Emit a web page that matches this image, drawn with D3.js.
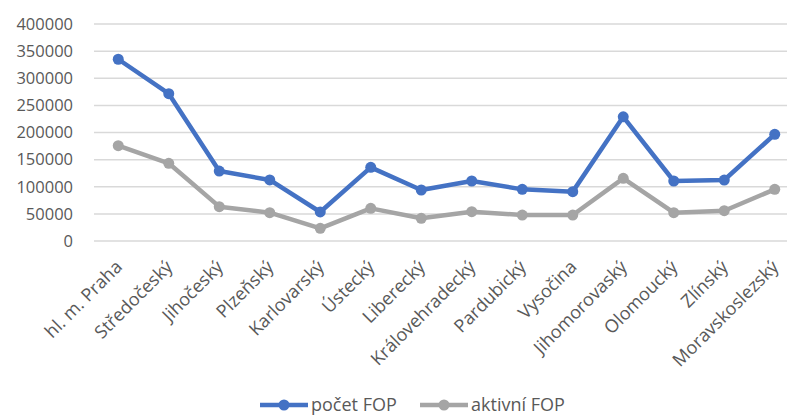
<!DOCTYPE html>
<html lang="cs">
<head>
<meta charset="UTF-8">
<title>FOP podle krajů</title>
<script src="https://d3js.org/d3.v7.min.js"></script>
<style>
  body { margin: 0; background: #fff; }
  svg text { font-family: "Open Sans", sans-serif; fill: #595959; }
</style>
</head>
<body>
<svg width="787" height="415" id="mainsvg"></svg>
<script>
const kraje = ['hl. m. Praha', 'Středočeský', 'Jihočeský', 'Plzeňský', 'Karlovarský', 'Ústecký',
  'Liberecký', 'Královehradecký', 'Pardubický', 'Vysočina', 'Jihomorovaský', 'Olomoucký',
  'Zlínský', 'Moravskoslezský'];
const pocetFOP = [335000, 271500, 129000, 112500, 53500, 135800, 94000, 110600, 95200, 91000,
  229000, 110600, 112400, 196600];
const aktivniFOP = [175700, 143200, 63300, 52200, 23300, 60200, 41800, 54000, 47900, 47900,
  115500, 52200, 55800, 95200];
const yTicks = [0, 50000, 100000, 150000, 200000, 250000, 300000, 350000, 400000];

const svg = d3.select('#mainsvg');
const width = +svg.attr('width');

// scales
const x = d3.scaleBand().domain(kraje).range([93, 800]).padding(0);
const y = d3.scaleLinear().domain([0, 400000]).range([241, 24]);
const cx = d => x(d) + x.bandwidth() / 2;

// gridlines
svg.append('g').selectAll('line').data(yTicks).join('line')
  .attr('x1', 94).attr('x2', width)
  .attr('y1', d => y(d)).attr('y2', d => y(d))
  .attr('stroke', '#d9d9d9').attr('stroke-width', 1.5);

// y axis labels
const yAxis = d3.axisLeft(y).tickValues(yTicks).tickSize(0).tickPadding(0).tickFormat(d3.format('d'));
const gy = svg.append('g').attr('transform', 'translate(73,0)').call(yAxis);
gy.select('.domain').remove();
gy.selectAll('text').attr('font-size', 16.5).style('font-family', '"Open Sans", sans-serif').attr('fill', '#595959');

// x axis labels, rotated
const xAxis = d3.axisBottom(x).tickSize(0).tickPadding(0);
const gx = svg.append('g').attr('transform', 'translate(0,252)').call(xAxis);
gx.select('.domain').remove();
gx.selectAll('text')
  .attr('font-size', 18).style('font-family', '"Open Sans", sans-serif').attr('fill', '#595959')
  .attr('text-anchor', 'end').attr('dy', null).attr('y', 0)
  .attr('transform', 'translate(5,16) rotate(-45)');

// series
const series = [
  { name: 'počet FOP', values: pocetFOP, color: '#4472C4' },
  { name: 'aktivní FOP', values: aktivniFOP, color: '#A5A5A5' }
];
const line = d3.line().x(d => cx(d.k)).y(d => y(d.v));

// gray first so blue sits on top
series.slice().reverse().forEach(s => {
  const pts = kraje.map((k, i) => ({ k: k, v: s.values[i] }));
  svg.append('path').datum(pts)
    .attr('d', line).attr('fill', 'none')
    .attr('stroke', s.color).attr('stroke-width', 4.5).attr('stroke-linejoin', 'round');
  svg.append('g').selectAll('circle').data(pts).join('circle')
    .attr('cx', d => cx(d.k)).attr('cy', d => y(d.v)).attr('r', 5.5)
    .attr('fill', s.color);
});

// legend
const legendX = [260, 420];
const legend = svg.append('g').selectAll('g').data(series).join('g')
  .attr('transform', (d, i) => `translate(${legendX[i]},405)`);
legend.append('line').attr('x1', 0).attr('x2', 48)
  .attr('stroke', d => d.color).attr('stroke-width', 4.5);
legend.append('circle').attr('cx', 24).attr('r', 5.5).attr('fill', d => d.color);
legend.append('text').attr('x', 51).attr('y', 5.5).attr('font-size', 18).text(d => d.name);
</script>
</body>
</html>
